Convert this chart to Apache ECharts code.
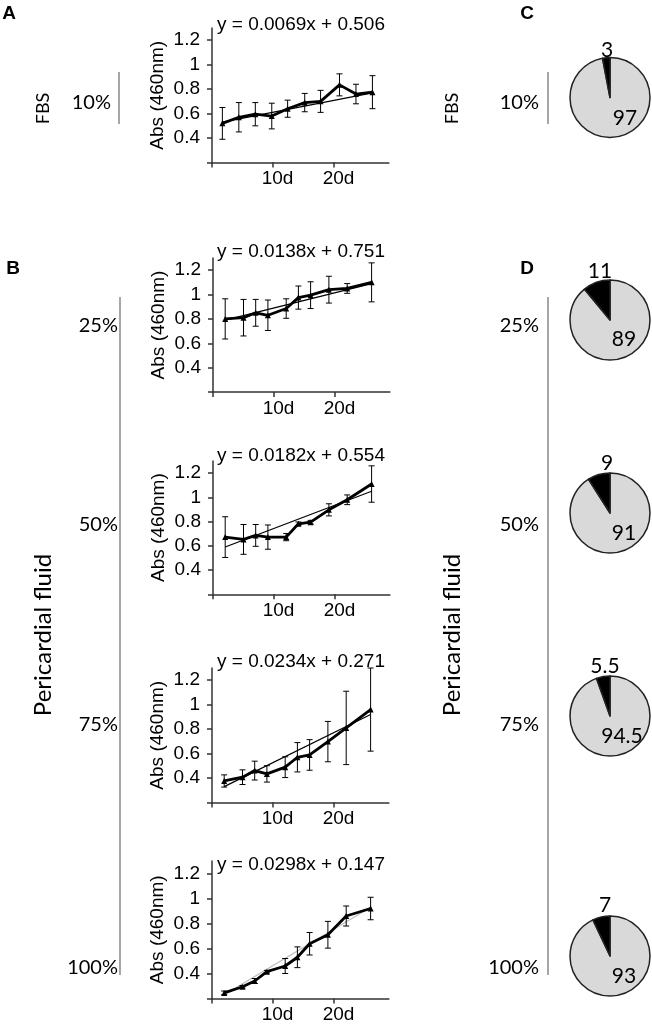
<!DOCTYPE html>
<html><head><meta charset="utf-8">
<script src="https://cdn.jsdelivr.net/npm/echarts@6.0.0/dist/echarts.min.js"></script>
<style>html,body{margin:0;padding:0;background:#fff}#c{width:652px;height:1025px}</style>
</head><body><div id="c"></div>
<script>
// ---------------- DATA ----------------
const daysA = [1.7, 4.4, 7.1, 9.8, 12.4, 15.2, 17.8, 20.9, 23.6, 26.3];
const daysB = [2, 5, 7, 9, 12, 14, 16, 19, 22, 26];

const absFBS10 = [0.52, 0.57, 0.595, 0.58, 0.64, 0.69, 0.70, 0.835, 0.76, 0.775];
const errFBS10 = [0.13, 0.12, 0.095, 0.105, 0.07, 0.075, 0.09, 0.09, 0.08, 0.135];
const trendFBS10 = [0.53, 0.77];

const absPF25 = [0.80, 0.81, 0.85, 0.83, 0.885, 0.975, 0.995, 1.04, 1.05, 1.10];
const errPF25 = [0.165, 0.15, 0.11, 0.125, 0.08, 0.095, 0.11, 0.11, 0.04, 0.16];
const trendPF25 = [0.79, 1.09];

const absPF50 = [0.672, 0.653, 0.686, 0.672, 0.672, 0.782, 0.795, 0.897, 0.98, 1.11];
const errPF50 = [0.168, 0.123, 0.09, 0.10, 0.03, 0.015, 0.015, 0.05, 0.04, 0.15];
const trendPF50 = [0.59, 1.05];

const absPF75 = [0.376, 0.407, 0.461, 0.434, 0.489, 0.57, 0.589, 0.698, 0.81, 0.96];
const errPF75 = [0.05, 0.06, 0.077, 0.067, 0.085, 0.12, 0.125, 0.165, 0.30, 0.34];
const trendPF75 = [0.33, 0.92];

const absPF100 = [0.245, 0.294, 0.34, 0.415, 0.46, 0.53, 0.638, 0.71, 0.86, 0.92];
const errPF100 = [0.015, 0.01, 0.02, 0.01, 0.06, 0.083, 0.09, 0.107, 0.08, 0.09];
const trendPF100 = [0.23, 0.93];

const equations = ['y = 0.0069x + 0.506', 'y = 0.0138x + 0.751', 'y = 0.0182x + 0.554',
                   'y = 0.0234x + 0.271', 'y = 0.0298x + 0.147'];

const pieFBS10 = [97, 3];
const piePF25 = [89, 11];
const piePF50 = [91, 9];
const piePF75 = [94.5, 5.5];
const piePF100 = [93, 7];

const xTickDays = [0, 10, 20];
const xLabelDays = [10, 20];
const xLabelText = ['10d', '20d'];
const yTickVals = [0.2, 0.4, 0.6, 0.8, 1.0, 1.2];
const yLabelVals = [0.4, 0.6, 0.8, 1.0, 1.2];
const yLabelText = ['0.4', '0.6', '0.8', '1', '1.2'];

const concLabels = ['10%', '25%', '50%', '75%', '100%'];

// ---------------- LAYOUT / STYLE ----------------
const AX = 'Liberation Sans, Arial, sans-serif';
const HUM = 'Lato, sans-serif';
const panels = [
  {days: daysA, abs: absFBS10, err: errFBS10, trend: trendFBS10, trendColor: '#000', grid: {left: 212, top: 28, height: 134.5}, eqTop: 15},
  {days: daysB, abs: absPF25, err: errPF25, trend: trendPF25, trendColor: '#000', grid: {left: 213, top: 258, height: 134}, eqTop: 242},
  {days: daysB, abs: absPF50, err: errPF50, trend: trendPF50, trendColor: '#000', grid: {left: 213, top: 461, height: 133.3}, eqTop: 446.5},
  {days: daysB, abs: absPF75, err: errPF75, trend: trendPF75, trendColor: '#000', grid: {left: 212, top: 668, height: 134.5}, eqTop: 652},
  {days: daysB, abs: absPF100, err: errPF100, trend: trendPF100, trendColor: '#bbb', grid: {left: 212, top: 861, height: 137.5}, eqTop: 855.5}
];
const X_MAX = 29, PX_PER_DAY = 6.1;

const pies = [
  {data: pieFBS10, center: [610, 97.5], top: [-3, -47.5], bot: [15, 20.5]},
  {data: piePF25, center: [610, 320], top: [-10, -48.5], bot: [14, 19]},
  {data: piePF50, center: [610, 513], top: [-3, -50], bot: [14, 20]},
  {data: piePF75, center: [610, 716], top: [-5, -50], bot: [12, 20]},
  {data: piePF100, center: [610, 956], top: [-5, -51], bot: [14, 20]}
];

const grid = [], xAxis = [], yAxis = [], series = [], title = [];
panels.forEach((p, i) => {
  grid.push({left: p.grid.left, top: p.grid.top, height: p.grid.height, width: X_MAX * PX_PER_DAY, containLabel: false});
  xAxis.push({
    type: 'value', gridIndex: i, min: 0, max: X_MAX,
    axisLine: {show: true, lineStyle: {color: '#333', width: 1.5}},
    axisTick: {show: true, customValues: xTickDays, length: 5, lineStyle: {color: '#333', width: 1.5}},
    axisLabel: {customValues: xLabelDays, formatter: v => xLabelText[xLabelDays.indexOf(v)],
      fontSize: 19, fontFamily: AX, color: '#000', margin: 7, padding: [0, 0, 0, 9]},
    splitLine: {show: false}
  });
  yAxis.push({
    type: 'value', gridIndex: i, min: 0.2, max: 1.3, interval: 0.2,
    name: 'Abs (460nm)', nameLocation: 'middle', nameGap: 45,
    nameTextStyle: {fontSize: 19, fontFamily: AX, color: '#000'},
    axisLine: {show: true, lineStyle: {color: '#333', width: 1.5}},
    axisTick: {show: true, customValues: yTickVals, length: 5, lineStyle: {color: '#333', width: 1.5}},
    axisLabel: {customValues: yLabelVals,
      formatter: v => yLabelText[yLabelVals.findIndex(u => Math.abs(u - v) < 1e-6)],
      fontSize: 19, fontFamily: AX, color: '#000', margin: 12},
    splitLine: {show: false}
  });
  title.push({text: equations[i], left: 217, top: p.eqTop, padding: 0,
    textStyle: {fontSize: 19, fontFamily: AX, fontWeight: 'normal', color: '#000'}});
  series.push({
    type: 'custom', xAxisIndex: i, yAxisIndex: i, silent: true, clip: false, z: 3,
    data: p.days.map((d, k) => [d, p.abs[k], p.err[k]]),
    encode: {x: 0, y: 1},
    renderItem: (params, api) => {
      const x = api.value(0), y = api.value(1), e = api.value(2);
      const a = api.coord([x, y + e]), b = api.coord([x, y - e]);
      const w = 3, st = {stroke: '#000', lineWidth: 1};
      return {type: 'group', children: [
        {type: 'line', shape: {x1: a[0], y1: a[1], x2: b[0], y2: b[1]}, style: st},
        {type: 'line', shape: {x1: a[0] - w, y1: a[1], x2: a[0] + w, y2: a[1]}, style: st},
        {type: 'line', shape: {x1: b[0] - w, y1: b[1], x2: b[0] + w, y2: b[1]}, style: st}
      ]};
    }
  });
  series.push({
    type: 'line', xAxisIndex: i, yAxisIndex: i, silent: true, symbol: 'none', z: 2,
    data: [[p.days[0], p.trend[0]], [p.days[p.days.length - 1], p.trend[1]]],
    lineStyle: {color: p.trendColor, width: 1.2}
  });
  series.push({
    type: 'line', xAxisIndex: i, yAxisIndex: i, silent: true, z: 4,
    data: p.days.map((d, k) => [d, p.abs[k]]),
    symbol: 'triangle', symbolSize: 6, showSymbol: true,
    itemStyle: {color: '#000'}, lineStyle: {color: '#000', width: 2.8}
  });
});

// ---------------- ANNOTATIONS ----------------
const g = [];
const text = (t, x, y, o = {}) => g.push({type: 'text', x, y, rotation: o.rot || 0, silent: true, z: 10,
  style: {text: t, font: (o.bold ? 'bold ' : '') + (o.size || 20) + 'px ' + (o.family || HUM), fill: '#000',
    textAlign: o.align || 'center', textVerticalAlign: 'middle'}});
const vline = (x, y1, y2) => g.push({type: 'line', silent: true, shape: {x1: x, y1, x2: x, y2},
  style: {stroke: '#888', lineWidth: 1.5}});

pies.forEach(pp => {
  series.push({
    type: 'pie', silent: true, center: pp.center, radius: 40, startAngle: 90, clockwise: true,
    label: {show: false}, labelLine: {show: false},
    itemStyle: {borderColor: '#222', borderWidth: 1.5},
    emphasis: {disabled: true},
    data: [
      {value: pp.data[0], itemStyle: {color: '#d9d9d9'}},
      {value: pp.data[1], itemStyle: {color: '#000'}}
    ]
  });
  text(String(pp.data[1]), pp.center[0] + pp.top[0], pp.center[1] + pp.top[1], {size: 21});
  text(String(pp.data[0]), pp.center[0] + pp.bot[0], pp.center[1] + pp.bot[1], {size: 21});
});

text('A', 9, 14, {bold: true, size: 19, family: AX});
text('B', 13, 269, {bold: true, size: 19, family: AX});
text('C', 527, 14, {bold: true, size: 19, family: AX});
text('D', 527, 269, {bold: true, size: 19, family: AX});

const rowY = [103, 326, 525, 725, 968];
[[43, 111, 118, 119, 120], [452, 539, 539, 548, 548]].forEach(([rx, r10, rPF, l1, l2]) => {
  text('FBS', rx, 108.5, {rot: Math.PI / 2, size: 18});
  text('Pericardial fluid', rx, 635, {rot: Math.PI / 2, size: 24});
  concLabels.forEach((c, k) => text(c, k === 0 ? r10 : rPF, rowY[k], {align: 'right'}));
  vline(l1, 72, 124);
  vline(l2, 297, 975);
});

const chart = echarts.init(document.getElementById('c'), null, {renderer: 'canvas'});
chart.setOption({animation: false, backgroundColor: '#fff', title, grid, xAxis, yAxis, series, graphic: g});
</script>
</body></html>
